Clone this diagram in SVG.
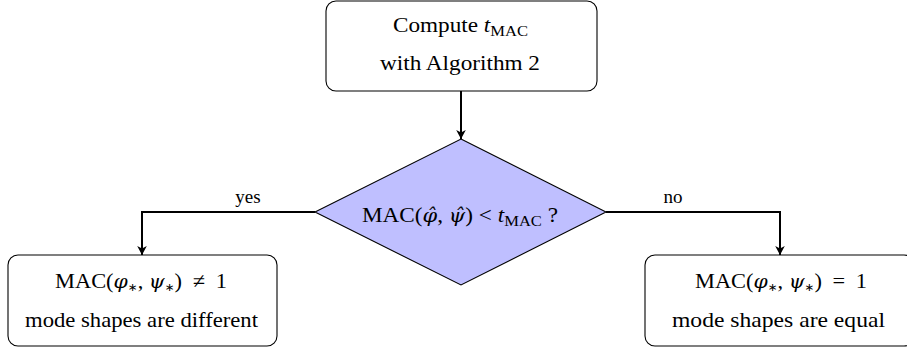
<svg xmlns="http://www.w3.org/2000/svg" width="907" height="350" viewBox="0 0 907 350">
<style>
.box{fill:#fff;stroke:#000;stroke-width:1.1}
.dia{fill:#bfbfff;stroke:#000;stroke-width:1.1}
.con{fill:none;stroke:#000;stroke-width:2}
text{font-family:"Liberation Serif","Times New Roman",serif;font-size:21px;fill:#000}
.c{text-anchor:middle}
.lbl{font-size:19px}
.it{font-style:italic}
.gr{font-family:"DejaVu Serif",serif;font-style:italic;font-size:19px}
.sub{font-size:15px}
.ast{font-family:"DejaVu Sans",sans-serif;font-size:11px}
</style>
<defs>
<marker id="arr" markerUnits="userSpaceOnUse" markerWidth="12" markerHeight="12" refX="10" refY="6" orient="auto" overflow="visible">
<path d="M10,6 L1,1.2 L3.5,6 L1,10.8 Z" fill="#000"/>
</marker>
</defs>
<g id="connectors">
<line class="con" x1="461" y1="91" x2="461" y2="139" marker-end="url(#arr)"/>
<path class="con" d="M315,212 H142 V255" marker-end="url(#arr)"/>
<path class="con" d="M606,212 H780 V255" marker-end="url(#arr)"/>
<text class="lbl c" x="248" y="203">yes</text>
<text class="lbl c" x="673" y="203">no</text>
</g>
<g id="compute">
<rect class="box" x="326" y="1" width="271" height="90" rx="10"/>
<text x="393" y="32" textLength="135" lengthAdjust="spacingAndGlyphs">Compute <tspan class="it">t</tspan><tspan class="sub" dy="4">MAC</tspan></text>
<text x="380" y="70" textLength="160" lengthAdjust="spacingAndGlyphs">with Algorithm 2</text>
</g>
<g id="decision">
<polygon class="dia" points="461,139 606,212 461,285 315,212"/>
<text x="362" y="222" textLength="196" lengthAdjust="spacingAndGlyphs">MAC(<tspan class="gr">φ̂</tspan>, <tspan class="gr">ψ̂</tspan>) &lt; <tspan class="it">t</tspan><tspan class="sub" dy="4">MAC</tspan><tspan dy="-4"> ?</tspan></text>
</g>
<g id="different">
<rect class="box" x="8" y="255" width="269" height="91" rx="10"/>
<text x="55" y="288" textLength="172" lengthAdjust="spacingAndGlyphs">MAC(<tspan class="gr">φ</tspan><tspan class="ast" dy="3">∗</tspan><tspan dy="-3">, </tspan><tspan class="gr">ψ</tspan><tspan class="ast" dy="3">∗</tspan><tspan dy="-3">)</tspan><tspan dx="10">≠</tspan><tspan dx="10">1</tspan></text>
<text x="25" y="327" textLength="233" lengthAdjust="spacingAndGlyphs">mode shapes are different</text>
</g>
<g id="equal">
<rect class="box" x="645" y="255" width="269" height="91" rx="10"/>
<text x="695" y="288" textLength="172" lengthAdjust="spacingAndGlyphs">MAC(<tspan class="gr">φ</tspan><tspan class="ast" dy="3">∗</tspan><tspan dy="-3">, </tspan><tspan class="gr">ψ</tspan><tspan class="ast" dy="3">∗</tspan><tspan dy="-3">)</tspan><tspan dx="10">=</tspan><tspan dx="10">1</tspan></text>
<text x="672" y="327" textLength="213" lengthAdjust="spacingAndGlyphs">mode shapes are equal</text>
</g>
</svg>
